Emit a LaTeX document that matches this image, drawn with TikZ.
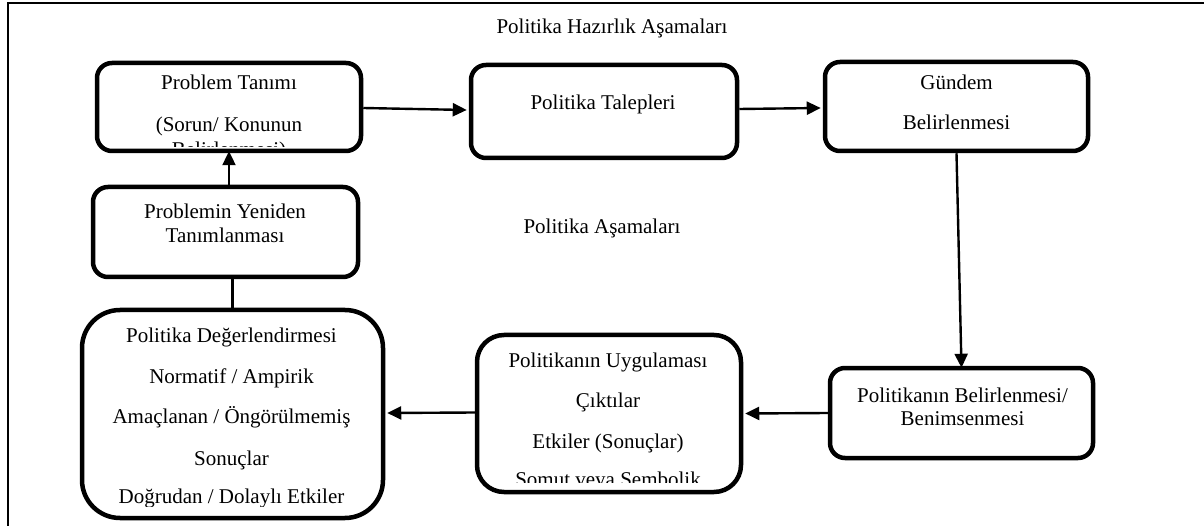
\documentclass[tikz,border=0pt]{standalone}
\usepackage{fontspec}
\setmainfont{Liberation Serif}
\usetikzlibrary{arrows.meta}
\begin{document}
\begin{tikzpicture}[x=1pt,y=-1pt,
  box/.style={draw,line width=4.5pt,rectangle,rounded corners=15pt,inner sep=0pt},
  txt/.style={anchor=base,inner sep=0pt,font=\fontsize{21}{25}\selectfont},
  arr/.style={line width=2.4pt,-{Triangle[length=14pt,width=13pt]}},
  lin/.style={line width=2.4pt},
  frame/.style={line width=2.2pt}]
\useasboundingbox (0,0) rectangle (1204,526);
\coordinate (f1) at (8,526);
\coordinate (f2) at (8,3);
\coordinate (f3) at (1204,3);
\draw[frame] (f1) -- (f2) -- (f3);

% titles
\node[txt] (t1) at (612,34) {Politika Hazırlık Aşamaları};
\node[txt] (t2) at (602,234) {Politika Aşamaları};

% boxes
\node[box,minimum width=264pt,minimum height=88pt] (pt) at (229,107) {};
\node[box,minimum width=266pt,minimum height=93pt] (pl) at (604,111.5) {};
\node[box,minimum width=263pt,minimum height=89pt] (gd) at (956.5,106.5) {};
\node[box,minimum width=265pt,minimum height=90pt] (py) at (225.5,232) {};
\node[box,minimum width=301pt,minimum height=208pt,rounded corners=38pt] (pd) at (232.5,414) {};
\node[box,minimum width=264pt,minimum height=157pt,rounded corners=27pt] (pu) at (609,413.5) {};
\node[box,minimum width=263pt,minimum height=90pt] (pb) at (961.5,413) {};

% texts
\begin{scope}
\clip (100,66) rectangle (358,147);
\node[txt] (pt1) at (229,90) {Problem Tanımı};
\node[txt] (pt2) at (229,132) {(Sorun/ Konunun};
\node[txt] (pt3) at (229,157) {Belirlenmesi)};
\end{scope}
\node[txt] (pl1) at (603,110) {Politika Talepleri};
\node[txt] (gd1) at (956.5,90) {Gündem};
\node[txt] (gd2) at (956.5,130) {Belirlenmesi};
\node[txt] (py1) at (225,219) {Problemin Yeniden};
\node[txt] (py2) at (225,243) {Tanımlanması};
\begin{scope}
\clip (86,314) rectangle (380,506);
\node[txt] (pd1) at (231.5,343) {Politika Değerlendirmesi};
\node[txt] (pd2) at (231.5,383) {Normatif / Ampirik};
\node[txt] (pd3) at (231.5,423) {Amaçlanan / Öngörülmemiş};
\node[txt] (pd4) at (231.5,465) {Sonuçlar};
\node[txt] (pd5) at (231.5,503) {Doğrudan / Dolaylı Etkiler};
\end{scope}
\begin{scope}
\clip (481,338) rectangle (738,482);
\node[txt] (pu1) at (608,367) {Politikanın Uygulaması};
\node[txt] (pu2) at (608,407) {Çıktılar};
\node[txt] (pu3) at (608,448) {Etkiler (Sonuçlar)};
\node[txt] (pu4) at (608,486) {Somut veya Sembolik};
\end{scope}
\node[txt] (pb1) at (962.5,402) {Politikanın Belirlenmesi/};
\node[txt] (pb2) at (962.5,425) {Benimsenmesi};

% connectors
\draw[arr] ([yshift=-1pt]pt.east) -- ([xshift=-2pt,yshift=1.5pt]pl.west);
\draw[arr] ([yshift=2.5pt]pl.east) -- ([xshift=-2pt,yshift=-1.5pt]gd.west);
\draw[arr] (gd.south) -- ([yshift=-2pt]pb.north);
\draw[arr] (pb.west) -- ([xshift=2pt]pu.east);
\draw[arr] ([yshift=1pt]pu.west) -- ([xshift=2pt,yshift=1pt]pd.east);
\draw[lin] (pd.north) -- (pd.north |- py.south);
\draw[arr] (py.north -| pt.south) -- ([yshift=2pt]pt.south);
\end{tikzpicture}
\end{document}
